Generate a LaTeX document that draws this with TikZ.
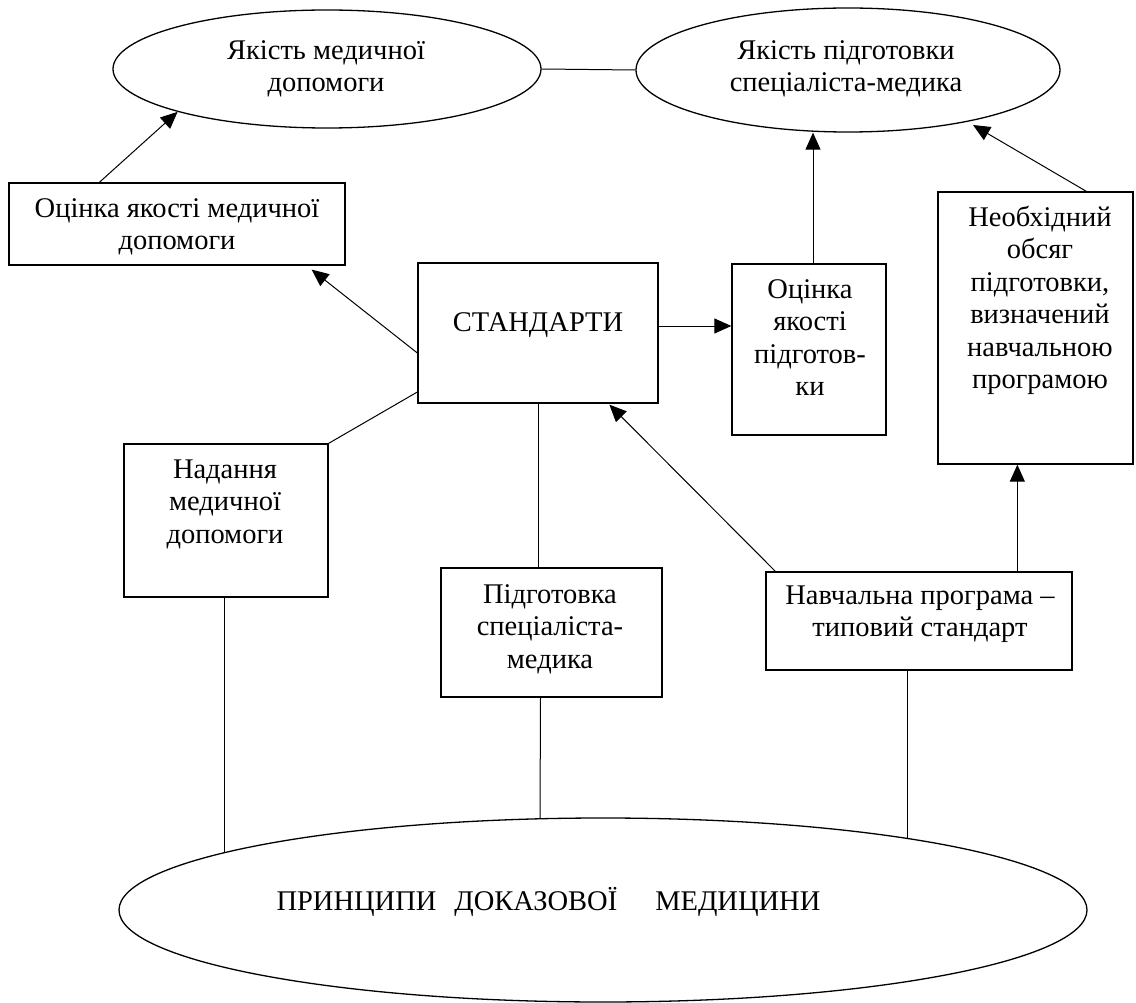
\documentclass[tikz,border=0pt]{standalone}
\usepackage{fontspec}
\setmainfont{Liberation Serif}
\usetikzlibrary{arrows.meta,shapes.geometric,calc}
\newcommand{\fl}{\rule{0pt}{25pt}}
\begin{document}
\begin{tikzpicture}[x=1pt,y=-1pt,
  box/.style={draw, line width=1.3pt, rectangle, inner sep=0pt},
  ell/.style={draw, line width=1.3pt, ellipse, inner sep=0pt},
  txt/.style={align=center, anchor=north, inner sep=0pt, font=\fontsize{28.5}{32.5}\selectfont},
  ln/.style={line width=1pt},
  arr/.style={line width=1pt, -{Triangle[length=17pt,width=15pt]}}]
\useasboundingbox (0,0) rectangle (1136,1003);

% ellipses
\node[ell, minimum width=428pt, minimum height=118pt] (e1) at (327,69) {};
\node[ell, minimum width=424pt, minimum height=124pt] (e2) at (848,70) {};
\node[ell, minimum width=968pt, minimum height=184pt] (e3) at (603,910) {};

% boxes
\node[box, minimum width=336pt, minimum height=82pt] (b1) at (177,224) {};
\node[box, minimum width=240pt, minimum height=140pt] (std) at (538,333) {};
\node[box, minimum width=154pt, minimum height=171pt] (ocp) at (809,349.5) {};
\node[box, minimum width=195pt, minimum height=272pt] (neo) at (1035.5,328) {};
\node[box, minimum width=204pt, minimum height=153pt] (nad) at (226,520.5) {};
\node[box, minimum width=221pt, minimum height=129pt] (pid) at (551.5,632.5) {};
\node[box, minimum width=306pt, minimum height=98pt] (nav) at (919,621) {};

% texts
\node[txt] (te1) at (326,34) {\fl Якість медичної\\допомоги};
\node[txt] (te2) at (846,34) {\fl Якість підготовки\\спеціаліста-медика};
\node[txt] (tb1) at (177,192) {\fl Оцінка якості медичної\\допомоги};
\node[txt] (tstd) at (538,306) {\fl СТАНДАРТИ};
\node[txt] (tocp) at (810,273) {\fl Оцінка\\якості\\підготов-\\ки};
\node[txt] (tneo) at (1040,201) {\fl Необхідний\\обсяг\\підготовки,\\визначений\\навчальною\\програмою};
\node[txt] (tnad) at (225,453) {\fl Надання\\медичної\\допомоги};
\node[txt] (tpid) at (550,578) {\fl Підготовка\\спеціаліста-\\медика};
\node[txt] (tnav) at (920,579) {\fl Навчальна програма –\\типовий стандарт};
\node[txt] (te3) at (548.5,885) {\fl ПРИНЦИПИ\hspace{18pt}ДОКАЗОВОЇ\hspace{38pt}МЕДИЦИНИ};

% helper coordinates
\coordinate (c1) at ($(b1.north west)+(91,0)$);
\coordinate (c2) at ($(std.west)+(0,20)$);
\coordinate (c2t) at ($(b1.south east)+(-34,4)$);
\coordinate (c3) at ($(std.west)+(0,59)$);
\coordinate (c4) at ($(std.east)+(0,-7)$);
\coordinate (c5) at ($(ocp.north)+(4,0)$);
\coordinate (c6) at ($(neo.north west)+(149,0)$);
\coordinate (c6t) at ($(e2.center)+(125,55)$);
\coordinate (c7) at ($(nav.north west)+(252,0)$);
\coordinate (c8) at ($(nav.north west)+(10,0)$);
\coordinate (c8t) at ($(std.south west)+(192,1)$);
\coordinate (c9) at ($(nad.south)+(-2,0)$);
\coordinate (c9t) at (224,852);
\coordinate (c10) at ($(pid.south)+(-11,0)$);
\coordinate (c10t) at (540,818);
\coordinate (c11) at ($(nav.south)+(-12,0)$);
\coordinate (c11t) at (907,838);

% connectors
\draw[ln] (e1.east) -- (e2.west);
\draw[arr] (c1) -- (e1.196);
\draw[arr] (c2) -- (c2t);
\draw[ln] (c3) -- (nad.north east);
\draw[arr] (c4) -- (c4 -| ocp.west);
\draw[arr] (c5) -- (c5 |- e2.south);
\draw[arr] (c6) -- (c6t);
\draw[arr] (c7) -- (c7 |- neo.south);
\draw[arr] (c8) -- (c8t);
\draw[ln] (std.south) -- (std.south |- pid.north);
\draw[ln] (c9) -- (c9t);
\draw[ln] (c10) -- (c10t);
\draw[ln] (c11) -- (c11t);
\end{tikzpicture}
\end{document}
